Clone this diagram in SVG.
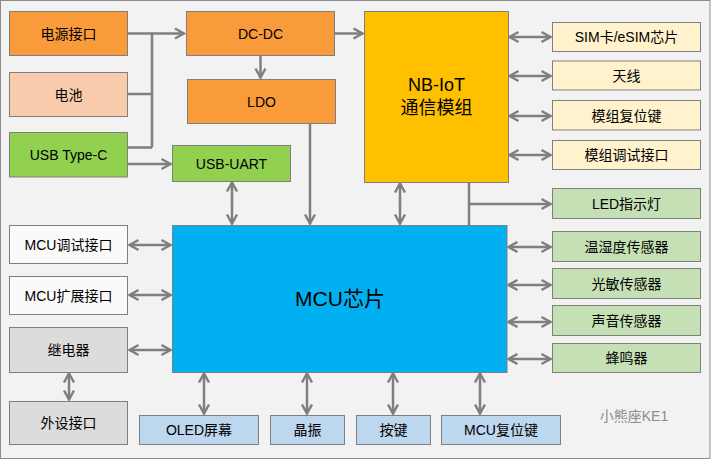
<svg xmlns="http://www.w3.org/2000/svg" width="711" height="460" viewBox="0 0 711 460">
<style>
.b{stroke:#7f7f7f;stroke-width:1}
.t{font-family:"Liberation Sans","Noto Sans CJK SC",sans-serif;font-size:14px;fill:#000;text-anchor:middle;dominant-baseline:central}
.c{stroke:#7f7f7f;stroke-width:2.5;fill:none}
.or{fill:#f99b3a}.pk{fill:#f8cbad}.gr{fill:#92d050}.yl{fill:#ffc000}.bl{fill:#00b0f0}
.cr{fill:#fff2cc}.lg{fill:#c5e0b4}.wh{fill:#fafafa}.gy{fill:#dcdcdc}.lb{fill:#bdd7ee}
</style>
<defs>
<marker id="a" viewBox="-11 -7 13 14" markerWidth="13" markerHeight="14" refX="0" refY="0" orient="auto-start-reverse" markerUnits="userSpaceOnUse">
<path d="M-9,-5 L0,0 L-9,5" fill="none" stroke="#7f7f7f" stroke-width="2.5"/>
</marker>
</defs>
<rect x="0.5" y="0.5" width="709.5" height="458" fill="#f2f2f2" stroke="#8c8c8c"/>
<g id="connectors">
<path class="c" d="M128,33.5 H184" marker-end="url(#a)"/>
<path class="c" d="M128,94 H152 M128,147.5 H152 M152,33.5 V147.5"/>
<path class="c" d="M128,164 H170.5" marker-end="url(#a)"/>
<path class="c" d="M335,33.5 H362.5" marker-end="url(#a)"/>
<path class="c" d="M260.5,55 V77.5" marker-end="url(#a)"/>
<path class="c" d="M310,123 V223.5" marker-end="url(#a)"/>
<path class="c" d="M232,182.5 V223.5" marker-start="url(#a)" marker-end="url(#a)"/>
<path class="c" d="M400,183.5 V223.5" marker-start="url(#a)" marker-end="url(#a)"/>
<path class="c" d="M469,182 V225"/>
<path class="c" d="M469,204 H550.5" marker-end="url(#a)"/>
<path class="c" d="M509.5,37 H550.5" marker-start="url(#a)" marker-end="url(#a)"/>
<path class="c" d="M509.5,76 H550.5" marker-start="url(#a)" marker-end="url(#a)"/>
<path class="c" d="M509.5,116 H550.5" marker-start="url(#a)" marker-end="url(#a)"/>
<path class="c" d="M509.5,155 H550.5" marker-start="url(#a)" marker-end="url(#a)"/>
<path class="c" d="M508.5,247 H550.5" marker-start="url(#a)" marker-end="url(#a)"/>
<path class="c" d="M508.5,285 H550.5" marker-start="url(#a)" marker-end="url(#a)"/>
<path class="c" d="M508.5,322 H550.5" marker-start="url(#a)" marker-end="url(#a)"/>
<path class="c" d="M508.5,359 H550.5" marker-start="url(#a)" marker-end="url(#a)"/>
<path class="c" d="M129.5,245 H170.5" marker-start="url(#a)" marker-end="url(#a)"/>
<path class="c" d="M129.5,295 H170.5" marker-start="url(#a)" marker-end="url(#a)"/>
<path class="c" d="M129.5,350 H170.5" marker-start="url(#a)" marker-end="url(#a)"/>
<path class="c" d="M69,373.5 V399.5" marker-start="url(#a)" marker-end="url(#a)"/>
<path class="c" d="M204,373.5 V413.5" marker-start="url(#a)" marker-end="url(#a)"/>
<path class="c" d="M307,373.5 V413.5" marker-start="url(#a)" marker-end="url(#a)"/>
<path class="c" d="M393,373.5 V413.5" marker-start="url(#a)" marker-end="url(#a)"/>
<path class="c" d="M480,373.5 V413.5" marker-start="url(#a)" marker-end="url(#a)"/>
</g>
<g id="power"><rect class="b or" x="9.5" y="11.5" width="118" height="44"/><text class="t" x="68.5" y="33.5">电源接口</text></g>
<g id="battery"><rect class="b pk" x="9.5" y="72.5" width="118" height="44"/><text class="t" x="68.5" y="94.5">电池</text></g>
<g id="usbc"><rect class="b gr" x="9.5" y="132.5" width="118" height="44.5"/><text class="t" x="68.5" y="154.5">USB Type-C</text></g>
<g id="dcdc"><rect class="b or" x="186.5" y="11.5" width="148" height="44"/><text class="t" x="260.5" y="33.5">DC-DC</text></g>
<g id="ldo"><rect class="b or" x="187.5" y="79.5" width="148" height="44"/><text class="t" x="261.5" y="101.5">LDO</text></g>
<g id="usbuart"><rect class="b gr" x="172.5" y="145.5" width="118" height="36"/><text class="t" x="231.5" y="163.5">USB-UART</text></g>
<g id="nbiot"><rect class="b yl" x="364.5" y="11.5" width="144" height="171"/><text class="t" x="436.5" y="85" style="font-size:18px">NB-IoT</text><text class="t" x="436.5" y="108" style="font-size:18px">通信模组</text></g>
<g id="mcu"><rect class="b bl" x="172.5" y="225.5" width="334.5" height="147"/><text class="t" x="340" y="298" style="font-size:21px">MCU芯片</text></g>
<g id="sim"><rect class="b cr" x="552.5" y="22.5" width="148" height="29"/><text class="t" x="626.5" y="37">SIM卡/eSIM芯片</text></g>
<g id="antenna"><rect class="b cr" x="552.5" y="61" width="148" height="29"/><text class="t" x="626.5" y="75.5">天线</text></g>
<g id="modrst"><rect class="b cr" x="552.5" y="100.5" width="148" height="29.5"/><text class="t" x="626.5" y="115.5">模组复位键</text></g>
<g id="moddbg"><rect class="b cr" x="552.5" y="140.5" width="148" height="29"/><text class="t" x="626.5" y="155">模组调试接口</text></g>
<g id="led"><rect class="b lg" x="552.5" y="188.5" width="148" height="30"/><text class="t" x="626.5" y="203.5">LED指示灯</text></g>
<g id="th"><rect class="b lg" x="552.5" y="231.5" width="148" height="30"/><text class="t" x="626.5" y="246.5">温湿度传感器</text></g>
<g id="light"><rect class="b lg" x="552.5" y="268.5" width="148" height="30"/><text class="t" x="626.5" y="283.5">光敏传感器</text></g>
<g id="sound"><rect class="b lg" x="552.5" y="305.5" width="148" height="30"/><text class="t" x="626.5" y="320.5">声音传感器</text></g>
<g id="buzzer"><rect class="b lg" x="552.5" y="343.5" width="148" height="29"/><text class="t" x="626.5" y="358">蜂鸣器</text></g>
<g id="mcudbg"><rect class="b wh" x="9.5" y="225.5" width="118" height="38"/><text class="t" x="68.5" y="244.5">MCU调试接口</text></g>
<g id="mcuext"><rect class="b wh" x="9.5" y="276.5" width="118" height="38"/><text class="t" x="68.5" y="295.5">MCU扩展接口</text></g>
<g id="relay"><rect class="b gy" x="9.5" y="327.5" width="118" height="45"/><text class="t" x="68.5" y="350">继电器</text></g>
<g id="periph"><rect class="b gy" x="9.5" y="401.5" width="118" height="43"/><text class="t" x="68.5" y="423">外设接口</text></g>
<g id="oled"><rect class="b lb" x="139.5" y="415.5" width="119" height="29"/><text class="t" x="199" y="430">OLED屏幕</text></g>
<g id="xtal"><rect class="b lb" x="270.5" y="415.5" width="74" height="29"/><text class="t" x="307.5" y="430">晶振</text></g>
<g id="key"><rect class="b lb" x="356.5" y="415.5" width="74" height="29"/><text class="t" x="393.5" y="430">按键</text></g>
<g id="mcurst"><rect class="b lb" x="441.5" y="415.5" width="119" height="29"/><text class="t" x="501" y="430">MCU复位键</text></g>
<text class="t" x="634" y="416" style="fill:#8c8c8c">小熊座KE1</text>
</svg>
